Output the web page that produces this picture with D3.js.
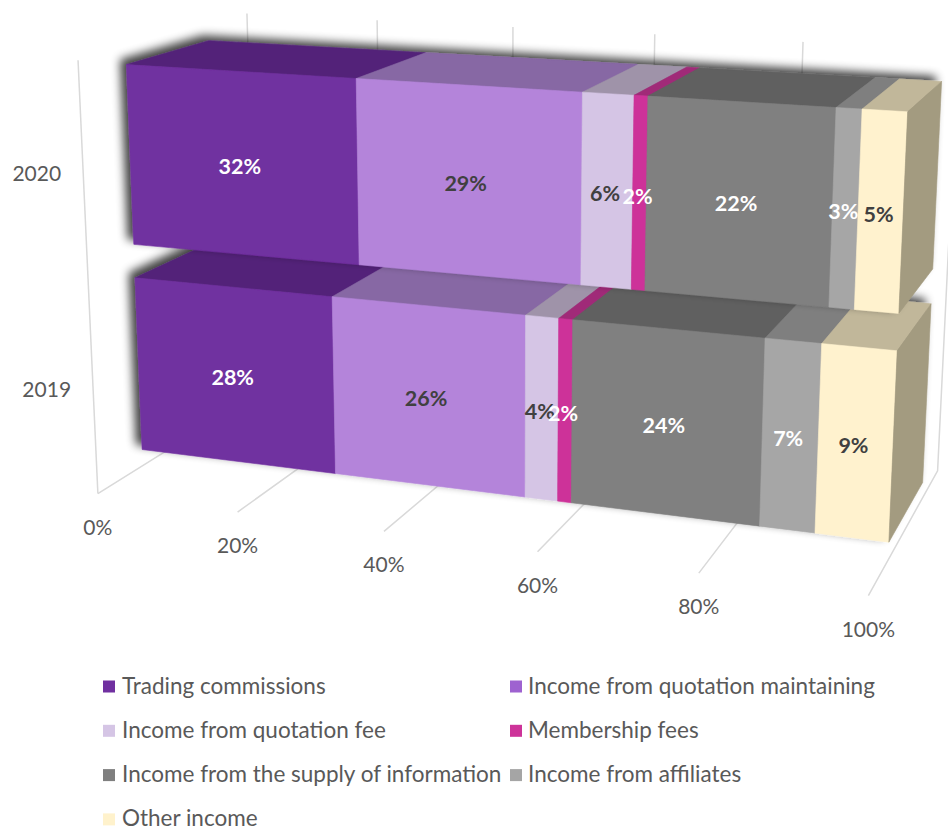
<!DOCTYPE html>
<html><head><meta charset="utf-8">
<script src="https://cdn.jsdelivr.net/npm/d3@7"></script>
<style>body{margin:0;background:#fff}svg{display:block}</style>
</head><body>
<svg id="chart" width="948" height="830"></svg>
<script>
// ---------------- DATA ----------------
const categories = ["2019", "2020"];
const seriesNames = [
  "Trading commissions",
  "Income from quotation maintaining",
  "Income from quotation fee",
  "Membership fees",
  "Income from the supply of information",
  "Income from affiliates",
  "Other income"
];
const values2019 = [28.2, 26.0, 4.3, 1.8, 24.0, 6.8, 8.9];
const values2020 = [32.0, 29.3, 6.4, 1.7, 22.4, 3.0, 5.2];
const tickValues = [0, 20, 40, 60, 80, 100];

// ---------------- STYLE ----------------
const frontColors  = ["#7030A0", "#B484DA", "#D5C5E5", "#CD3399", "#808080", "#A6A6A6", "#FFF2CE"];
const topColors    = ["#532379", "#8767A4", "#9F93A9", "#A02A78", "#606060", "#7F7F7F", "#C1B79A"];
const sideColors   = ["#4A1F6C", "#7A5C94", "#8E8498", "#8E256B", "#555555", "#717171", "#A39B80"];
const legendColors = ["#7030A0", "#9E62D0", "#D5C5E5", "#CD3399", "#7F7F7F", "#A5A5A5", "#FFF2CC"];
const labelColors  = ["#FFFFFF", "#404040", "#404040", "#FFFFFF", "#FFFFFF", "#FFFFFF", "#404040"];
const FONT = "Lato, 'Open Sans', 'DejaVu Sans', sans-serif";

// ---------------- LAYOUT: 3D frame (plot box corners projected on screen) ----------------
// world: x = value share (0..1), y = vertical (0 floor .. 1 top), z = depth (0 front .. 1 back wall)
const frameAnchors = [
  [[0, 0, 0], [98, 492]], [[0.2, 0, 0], [238, 512]], [[0.4, 0, 0], [384, 532]],
  [[0.6, 0, 0], [537, 552]], [[0.8, 0, 0], [699, 573]], [[1, 0, 0], [867, 595]],
  [[0, 0, 1], [257, 395]], [[1, 0, 1], [939, 471]],
  [[0, 1, 0], [77, 61]], [[0, 1, 1], [248, 13]],
  [[1, 1, 1], [956, 49]], [[1, 1, 0], [891, 110]]
];
const BAR_Z0 = 0.255, BAR_Z1 = 0.745;

function solveProjection(anchors) {
  const rows = [], rhs = [];
  anchors.forEach(([[X, Y, Z], [u, v]]) => {
    rows.push([X, Y, Z, 1, 0, 0, 0, 0, -u * X, -u * Y, -u * Z]); rhs.push(u);
    rows.push([0, 0, 0, 0, X, Y, Z, 1, -v * X, -v * Y, -v * Z]); rhs.push(v);
  });
  const n = 11;
  const N = Array.from({length: n}, () => new Array(n + 1).fill(0));
  rows.forEach((r, k) => {
    for (let i = 0; i < n; i++) {
      for (let j = 0; j < n; j++) N[i][j] += r[i] * r[j];
      N[i][n] += r[i] * rhs[k];
    }
  });
  for (let c = 0; c < n; c++) {
    let p = c;
    for (let r = c + 1; r < n; r++) if (Math.abs(N[r][c]) > Math.abs(N[p][c])) p = r;
    [N[c], N[p]] = [N[p], N[c]];
    for (let r = 0; r < n; r++) {
      if (r === c) continue;
      const f = N[r][c] / N[c][c];
      for (let k = c; k <= n; k++) N[r][k] -= f * N[c][k];
    }
  }
  return N.map((row, i) => row[n] / row[i]);
}
const P = solveProjection(frameAnchors);
function project(x, y, z) {
  const w = P[8] * x + P[9] * y + P[10] * z + 1;
  return [(P[0] * x + P[1] * y + P[2] * z + P[3]) / w,
          (P[4] * x + P[5] * y + P[6] * z + P[7]) / w];
}

// ---------------- SCALES ----------------
const xScale = d3.scaleLinear().domain([0, 100]).range([0, 1]);
const yScale = d3.scaleBand().domain(categories).range([0, 1]).paddingInner(0.16).paddingOuter(0.08);

const svg = d3.select("#chart");
const defs = svg.append("defs");
const f = defs.append("filter").attr("id", "shadow").attr("x", "-10%").attr("y", "-30%").attr("width", "120%").attr("height", "160%");
f.append("feGaussianBlur").attr("in", "SourceAlpha").attr("stdDeviation", 5).attr("result", "b");
f.append("feOffset").attr("in", "b").attr("dx", -6).attr("dy", -5).attr("result", "o");
f.append("feComponentTransfer").attr("in", "o").attr("result", "s")
  .append("feFuncA").attr("type", "linear").attr("slope", 0.75);
const fm = f.append("feMerge");
fm.append("feMergeNode").attr("in", "s");
fm.append("feMergeNode").attr("in", "SourceGraphic");

const line = d3.line();
const poly = pts => "M" + pts.map(p => project(...p).join(",")).join("L") + "Z";

// ---------------- GRID ----------------
const grid = svg.append("g").attr("stroke", "#D9D9D9").attr("stroke-width", 1.5).attr("fill", "none");
tickValues.forEach(t => {
  const x = xScale(t);
  grid.append("path").attr("d", line([project(x, 0, 0), project(x, 0, 1), project(x, 1, 1)]));
});
grid.append("path").attr("d", line([project(0, 0, 0), project(0, 1, 0)]));

// ---------------- BARS ----------------
const dataByCat = {"2019": values2019, "2020": values2020};
const labelLayer = [];
categories.forEach(cat => {
  const vals = dataByCat[cat];
  const y0 = yScale(cat), y1 = y0 + yScale.bandwidth();
  const g = svg.append("g").attr("filter", "url(#shadow)");
  let cum = 0;
  vals.forEach((v, i) => {
    const x0 = xScale(cum), x1 = xScale(cum + v);
    cum += v;
    const z0 = BAR_Z0, z1 = BAR_Z1;
    g.append("path").attr("d", poly([[x0, y1, z0], [x1, y1, z0], [x1, y1, z1], [x0, y1, z1]]))
      .attr("fill", topColors[i]).attr("stroke", topColors[i]).attr("stroke-width", 0.6);
    g.append("path").attr("d", poly([[x0, y0, z0], [x1, y0, z0], [x1, y1, z0], [x0, y1, z0]]))
      .attr("fill", frontColors[i]).attr("stroke", frontColors[i]).attr("stroke-width", 0.6);
    if (i === vals.length - 1) {
      g.append("path").attr("d", poly([[x1, y0, z0], [x1, y0, z1], [x1, y1, z1], [x1, y1, z0]]))
        .attr("fill", sideColors[i]).attr("stroke", sideColors[i]).attr("stroke-width", 0.6);
    }
    const c = project((x0 + x1) / 2, (y0 + y1) / 2, z0);
    labelLayer.push({x: c[0], y: c[1], text: Math.round(v) + "%", color: labelColors[i]});
  });
});

svg.append("g").selectAll("text").data(labelLayer).join("text")
  .attr("x", d => d.x - 2).attr("y", d => d.y + 10)
  .attr("text-anchor", "middle")
  .attr("font-family", FONT).attr("font-weight", "bold").attr("font-size", 21.5)
  .attr("fill", d => d.color).text(d => d.text);

// ---------------- AXES LABELS ----------------
svg.append("g").selectAll("text").data(tickValues).join("text")
  .attr("x", t => project(xScale(t), 0, 0)[0])
  .attr("y", t => project(xScale(t), 0, 0)[1] + 41)
  .attr("text-anchor", "middle")
  .attr("font-family", FONT).attr("font-size", 21).attr("fill", "#595959")
  .text(t => t + "%");

svg.append("g").selectAll("text").data(categories).join("text")
  .attr("x", c => project(0, yScale(c) + yScale.bandwidth() / 2, 0)[0] - 22)
  .attr("y", c => project(0, yScale(c) + yScale.bandwidth() / 2, 0)[1] + 8)
  .attr("text-anchor", "end")
  .attr("font-family", FONT).attr("font-size", 21).attr("fill", "#595959")
  .text(c => c);

// ---------------- LEGEND ----------------
const legend = svg.append("g");
seriesNames.forEach((name, i) => {
  const col = i % 2, row = Math.floor(i / 2);
  const sx = col ? 510 : 103, tx = col ? 528 : 122;
  const cy = 686.5 + row * 44.3;
  legend.append("rect").attr("x", sx).attr("y", cy - 6).attr("width", 12).attr("height", 12).attr("fill", legendColors[i]);
  legend.append("text").attr("x", tx).attr("y", cy + 7)
    .attr("font-family", FONT).attr("font-size", 22.5).attr("fill", "#595959").text(name);
});
</script>
</body></html>
